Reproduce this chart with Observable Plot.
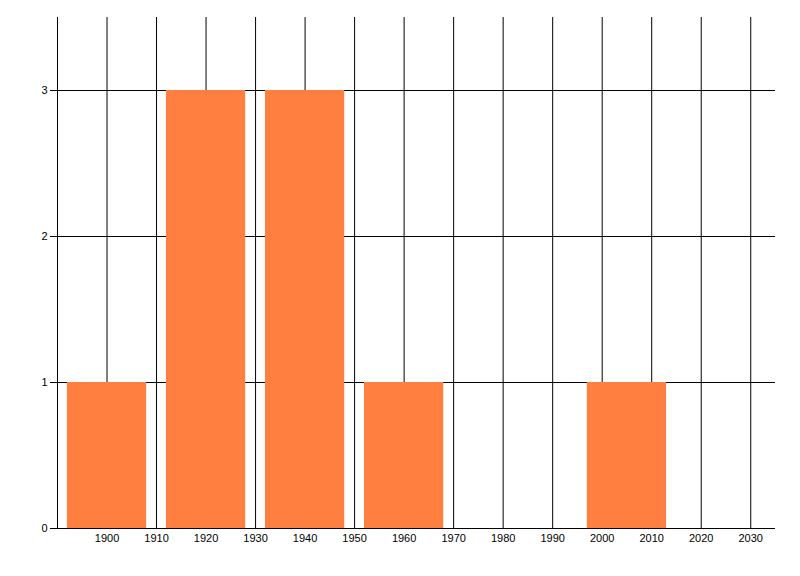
<!DOCTYPE html>
<html>
<head>
<meta charset="utf-8">
<script src="https://cdn.jsdelivr.net/npm/d3@7"></script>
<script src="https://cdn.jsdelivr.net/npm/@observablehq/plot@0.6"></script>
<style>
  html, body { margin: 0; padding: 0; background: #fff; }
  #chart svg { display: block; }
</style>
</head>
<body>
<div id="chart"></div>
<script>
const binCenters = [1900, 1920, 1940, 1960, 2005];
const counts = [1, 3, 3, 1, 1];
const binHalfWidth = 8;
const xTicks = [1900, 1910, 1920, 1930, 1940, 1950, 1960, 1970, 1980, 1990, 2000, 2010, 2020, 2030];
const xGrid = [1890, 1900, 1910, 1920, 1930, 1940, 1950, 1960, 1970, 1980, 1990, 2000, 2010, 2020, 2030];
const yTicks = [0, 1, 2, 3];
const yGrid = [1, 2, 3];

const bars = binCenters.map((c, i) => ({x1: c - binHalfWidth, x2: c + binHalfWidth, y: counts[i]}));

const chart = Plot.plot({
  width: 800,
  height: 576,
  marginLeft: 57,
  marginRight: 25,
  marginTop: 17,
  marginBottom: 48,
  style: {fontFamily: "'Liberation Sans', Arial, sans-serif", fontSize: "11px", color: "#000", background: "#fff"},
  x: {domain: [1890, 2035]},
  y: {domain: [0, 3.5]},
  marks: [
    Plot.ruleX(xGrid, {x: d => d, y1: 0, y2: 3.5, stroke: "#000", strokeOpacity: 1}),
    Plot.ruleY(yGrid, {y: d => d, stroke: "#000"}),
    Plot.ruleY([0], {stroke: "#000"}),
    Plot.rect(bars, {x1: "x1", x2: "x2", y1: 0, y2: "y", fill: "#ff7f41"}),
    Plot.axisY({ticks: yTicks, tickSize: 7, tickPadding: 3, tickFormat: d => String(d), label: null, stroke: "#000"}),
    Plot.axisX({ticks: xTicks, tickSize: 0, tickPadding: 6, tickFormat: d => String(d), label: null})
  ]
});
document.getElementById("chart").appendChild(chart);
</script>
</body>
</html>
